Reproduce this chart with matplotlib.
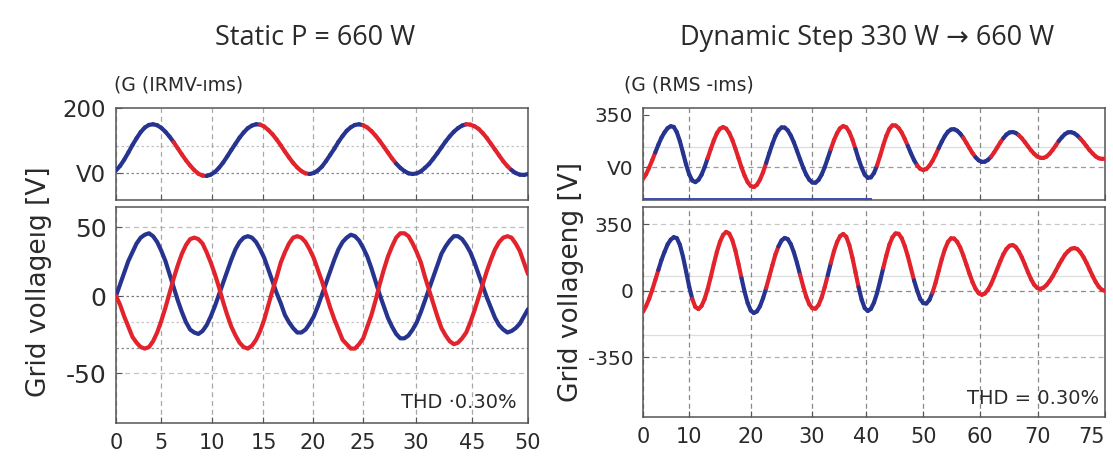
import numpy as np
import matplotlib
matplotlib.use("Agg")
import matplotlib.pyplot as plt
from matplotlib.collections import LineCollection

# ---- data ----
# left panel (static), sampled every 0.5 on the 0..50 axis
x_left = np.arange(0, 50.5, 0.5)
static_top = [8, 22, 41, 63, 86, 107, 126, 140, 148, 150,
              147, 139, 127, 112, 95, 76, 57, 39, 23, 9,
              -2, -8, -9, -5, 3, 16, 32, 51, 71, 90,
              109, 125, 138, 146, 150, 149, 143, 132, 119, 103,
              85, 66, 48, 31, 17, 6, -1, -3, 0, 8,
              20, 37, 56, 75, 96, 114, 130, 141, 148, 150,
              147, 140, 129, 115, 99, 81, 63, 45, 29, 16,
              6, -1, -3, -1, 5, 16, 28, 44, 61, 79,
              97, 113, 127, 138, 146, 150, 149, 144, 136, 123,
              108, 90, 72, 54, 36, 21, 9, 0, -5, -6,
              -3]
static_top_red = [(7.0, 10.9), (17.3, 23.3), (30.0, 33.9), (42.7, 47.8)]
static_blue = [0, 8, 16, 24, 30, 36, 40, 42, 43, 41,
               37, 31, 24, 15, 6, -3, -11, -18, -23, -25,
               -26, -24, -20, -14, -7, 1, 9, 17, 25, 32,
               37, 40, 41, 40, 37, 32, 26, 18, 10, 2,
               -5, -13, -18, -22, -25, -25, -23, -19, -14, -7,
               1, 9, 17, 25, 32, 37, 40, 42, 41, 38,
               33, 27, 19, 10, 1, -7, -15, -21, -26, -29,
               -29, -27, -23, -18, -11, -3, 5, 13, 21, 29,
               34, 38, 41, 41, 39, 35, 30, 23, 15, 7,
               -1, -8, -15, -20, -23, -25, -24, -22, -19, -14,
               -9]
static_red = [0, -6, -14, -21, -28, -32, -35, -36, -35, -31,
              -25, -17, -8, 2, 12, 21, 29, 35, 39, 40,
              39, 36, 30, 23, 15, 6, -4, -13, -21, -27,
              -32, -35, -36, -34, -30, -24, -16, -6, 4, 13,
              23, 30, 36, 40, 41, 40, 37, 32, 26, 18,
              10, 1, -8, -16, -23, -30, -33, -36, -36, -33,
              -29, -21, -13, -3, 8, 18, 27, 34, 40, 43,
              43, 41, 36, 30, 23, 13, 4, -5, -14, -22,
              -27, -31, -33, -32, -29, -25, -18, -10, -1, 8,
              17, 25, 32, 37, 40, 41, 40, 36, 31, 23,
              15]
left_xlabels = ["0", "5", "10", "15", "20", "25", "30", "45", "50"]
left_xpos = [0, 5.5, 11.7, 17.9, 23.9, 30.0, 36.4, 43.2, 50]

# right panel (dynamic step), sampled every 0.5 on the 0..75 axis
x_right = np.arange(0, 75.5, 0.5)
dyn_top = [-80, -48, -4, 46, 98, 150, 197, 233, 261, 274, 269, 233, 172, 95, 17, -49, -90, -101, -86, -52,
           -1, 59, 121, 179, 227, 257, 268, 258, 228, 182, 124, 61, -3, -58, -102, -127, -134, -119, -84, -34,
           28, 93, 155, 209, 246, 266, 265, 246, 211, 165, 109, 52, -4, -51, -85, -104, -105, -87, -51, -1,
           59, 121, 180, 227, 261, 275, 267, 235, 184, 121, 54, -4, -51, -72, -69, -40, 11, 76, 146, 209,
           256, 280, 279, 262, 231, 189, 141, 92, 47, 12, -12, -20, -13, 9, 41, 82, 127, 170, 208, 237,
           252, 254, 244, 224, 196, 162, 127, 93, 65, 45, 35, 36, 48, 69, 98, 131, 165, 194, 218, 232,
           235, 229, 214, 193, 167, 139, 112, 89, 71, 62, 61, 70, 89, 115, 144, 175, 200, 221, 233, 234,
           227, 212, 191, 167, 140, 113, 91, 71, 59, 55, 56]
dyn_top_blue = [(1.9, 10.6), (20.1, 30.4), (34.6, 38.1), (43.0, 44.6), (48.2, 51.8),
                (53.9, 56.3), (58.4, 61.2), (67.7, 70.9)]
dyn_top_base_end = 37
dyn_bot = [-110, -79, -41, 6, 58, 111, 163, 206, 245, 270, 283, 278, 242, 180, 103, 23, -42, -84, -95, -79,
           -43, 10, 74, 142, 206, 259, 295, 311, 302, 268, 213, 142, 67, -5, -64, -103, -116, -107, -80, -37,
           16, 75, 135, 192, 235, 266, 279, 273, 246, 203, 148, 86, 25, -30, -70, -91, -93, -74, -35, 20,
           83, 148, 209, 257, 289, 300, 285, 241, 175, 98, 20, -46, -90, -105, -94, -61, -11, 53, 121, 186,
           244, 283, 303, 301, 278, 236, 182, 119, 56, 3, -42, -64, -66, -47, -8, 44, 106, 167, 219, 258,
           277, 276, 259, 229, 187, 139, 91, 46, 11, -12, -20, -13, 6, 36, 74, 115, 156, 193, 221, 238,
           242, 232, 209, 177, 139, 99, 62, 33, 16, 11, 17, 31, 52, 77, 106, 137, 165, 191, 209, 222,
           226, 221, 204, 179, 148, 113, 78, 47, 22, 6, 0]
dyn_bot_blue = [(2.3, 8.1), (16.1, 20.0), (21.9, 25.5), (29.9, 30.7), (34.9, 38.8), (43.8, 46.9)]
right_xlabels = ["0", "10", "20", "30", "40", "50", "60", "70", "75"]
right_xpos = [0, 7.5, 17.5, 27.4, 36.2, 45.5, 54.7, 64.1, 75]

BLUE = "#26348f"
RED = "#e3232c"
GRID = "#a8a8a8"
SPINE = "#555555"
TXT = "#2a2a2a"
LW = 3.0

plt.rcParams["font.family"] = ["DejaVu Sans"]


def two_color(ax, x, y, spans, c_in, c_out):
    x = np.asarray(x, float)
    y = np.asarray(y, float)
    pts = np.column_stack([x, y]).reshape(-1, 1, 2)
    segs = np.concatenate([pts[:-1], pts[1:]], axis=1)
    mid = (x[:-1] + x[1:]) / 2
    inside = np.zeros(len(mid), bool)
    for a, b in spans:
        inside |= (mid >= a) & (mid <= b)
    cols = [c_in if f else c_out for f in inside]
    lc = LineCollection(segs, colors=cols, linewidths=LW, capstyle="round", joinstyle="round", zorder=3)
    ax.add_collection(lc)


def style(ax, xpos, xlabels, show_x, ysize):
    for s in ax.spines.values():
        s.set_color(SPINE)
        s.set_linewidth(1.1)
    ax.set_xticks(xpos)
    if show_x:
        ax.set_xticklabels(xlabels)
    else:
        ax.set_xticklabels([])
    ax.tick_params(axis="both", direction="in", length=4, color=SPINE, labelcolor=TXT)
    ax.tick_params(axis="x", pad=7, labelsize=15)
    ax.tick_params(axis="y", pad=7, labelsize=ysize)
    ax.grid(axis="x", linestyle=(0, (4, 3)), color=GRID, linewidth=0.9, zorder=0)


def hlines(ax, levels, styles):
    for lv, (ls, c) in zip(levels, styles):
        ax.axhline(lv, linestyle=ls, color=c, linewidth=0.9, zorder=1)


fig = plt.figure(figsize=(11.13, 4.66), dpi=100)

DARK = (0, (2, 2))
LIGHT = (0, (4, 3))

# left top
ax = fig.add_axes([0.1042, 0.5708, 0.3702, 0.1974])
two_color(ax, x_left, static_top, static_top_red, RED, BLUE)
ax.set_xlim(0, 50)
ax.set_ylim(-83, 200)
ax.set_yticks([200, 0])
ax.set_yticklabels(["200", "V0"])
style(ax, left_xpos, left_xlabels, False, 16.5)
hlines(ax, [83, 0], [(DARK, "#c4c4c4"), (DARK, "#8a8a8a")])

# left bottom
ax = fig.add_axes([0.1042, 0.0923, 0.3702, 0.4635])
ax.plot(x_left, static_blue, color=BLUE, lw=LW, zorder=3, solid_capstyle="round")
ax.plot(x_left, static_red, color=RED, lw=LW, zorder=3, solid_capstyle="round")
ax.set_xlim(0, 50)
ax.set_ylim(-87, 61)
ax.set_yticks([47, 0, -53])
ax.set_yticklabels(["50", "0", "-50"])
style(ax, left_xpos, left_xlabels, True, 18)
hlines(ax, [47, 0, -18, -35.6, -53],
       [(LIGHT, "#bdbdbd"), (DARK, "#7a7a7a"), (DARK, "#c8c8c8"), (DARK, "#8a8a8a"), (LIGHT, "#c4c4c4")])
ax.text(0.972, 0.095, "THD \u00b70.30%", transform=ax.transAxes, ha="right", va="center",
        fontsize=14, color=TXT)

# right top
ax = fig.add_axes([0.5777, 0.5708, 0.4151, 0.1974])
two_color(ax, x_right, dyn_top, dyn_top_blue, BLUE, RED)
ax.plot([0, dyn_top_base_end], [-214, -214], color="#3b4bb0", lw=1.4, zorder=2)
ax.set_xlim(0, 75)
ax.set_ylim(-221, 396)
ax.set_yticks([350, 0])
ax.set_yticklabels(["350", "V0"])
style(ax, right_xpos, right_xlabels, False, 14.5)
ax.grid(axis="x", linestyle=(0, (4, 3)), color="#888888", linewidth=0.9)
hlines(ax, [134, 0], [("-", "#dedede"), (LIGHT, "#9a9a9a")])

# right bottom
ax = fig.add_axes([0.5777, 0.1052, 0.4151, 0.4506])
two_color(ax, x_right, dyn_bot, dyn_bot_blue, BLUE, RED)
ax.set_xlim(0, 75)
ax.set_ylim(-663, 442)
ax.set_yticks([350, 0, -350])
ax.set_yticklabels(["350", "0", "-350"])
style(ax, right_xpos, right_xlabels, True, 14.5)
ax.get_xticklabels()[-1].set_horizontalalignment("right")
ax.grid(axis="x", linestyle=(0, (4, 3)), color="#888888", linewidth=0.9)
hlines(ax, [350, 79, 0, -232, -350],
       [(LIGHT, "#c8c8c8"), ("-", "#dedede"), (LIGHT, "#8a8a8a"), ("-", "#dedede"), (LIGHT, "#b0b0b0")])
ax.text(0.987, 0.09, "THD = 0.30%", transform=ax.transAxes, ha="right", va="center",
        fontsize=14, color=TXT)

# titles and labels
tfam = ["Open Sans", "DejaVu Sans"]
fig.text(0.283, 0.918, "Static P = 660 W", ha="center", va="center", fontsize=19.5,
         family=tfam, color=TXT)
fig.text(0.779, 0.918, "Dynamic Step 330 W \u2192 660 W", ha="center", va="center", fontsize=19.5,
         family=tfam, color=TXT)
fig.text(0.1024, 0.8176, "(G (IRMV-\u0131ms)", ha="left", va="center", fontsize=13.5, color=TXT)
fig.text(0.5606, 0.8176, "(G (RMS -\u0131ms)", ha="left", va="center", fontsize=13.5, color=TXT)
fig.text(0.035, 0.395, "Grid vollage\u0131g [V]", rotation=90, ha="center", va="center",
         fontsize=19, color=TXT)
fig.text(0.513, 0.395, "Grid vollageng [V]", rotation=90, ha="center", va="center",
         fontsize=19, color=TXT)

fig.savefig("out.png", dpi=100, facecolor="white")
